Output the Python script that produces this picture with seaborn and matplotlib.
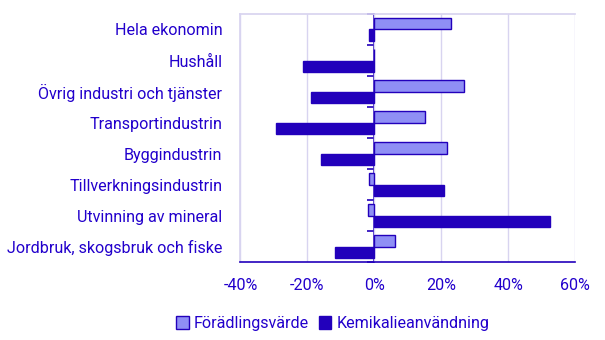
import matplotlib
matplotlib.use("Agg")
import matplotlib.pyplot as plt
import seaborn as sns
import pandas as pd
from matplotlib.ticker import FuncFormatter, FixedLocator

sns.set_theme(style="white")
plt.rcParams["font.family"] = ["Roboto", "DejaVu Sans"]

TEXT = "#2200cc"
DARK = "#2200bb"
LIGHT = "#8f8ff5"
GRID = "#d8d4f0"

categories = [
    "Hela ekonomin",
    "Hushåll",
    "Övrig industri och tjänster",
    "Transportindustrin",
    "Byggindustrin",
    "Tillverkningsindustrin",
    "Utvinning av mineral",
    "Jordbruk, skogsbruk och fiske",
]
foradling = [22.9, 0.0, 26.6, 15.0, 21.8, -1.6, -1.9, 6.0]
kemikalie = [-1.6, -21.3, -19.0, -29.4, -16.0, 20.7, 52.4, -11.8]
series = ["Förädlingsvärde", "Kemikalieanvändning"]

df = pd.concat([
    pd.DataFrame({"kategori": categories, "serie": series[0], "varde": foradling}),
    pd.DataFrame({"kategori": categories, "serie": series[1], "varde": kemikalie}),
])

fig = plt.figure(figsize=(6.05, 3.4), dpi=100)
ax = fig.add_axes([0.3975, 0.2285, 0.5535, 0.7305])

sns.barplot(data=df, y="kategori", x="varde", hue="serie", orient="h",
            palette=[LIGHT, DARK], saturation=1, width=0.75, ax=ax,
            edgecolor=DARK, linewidth=1.0, legend=True)

ax.set_xlim(-40, 60)
ax.set_ylim(len(categories) - 0.5, -0.5)
ax.set_xticks([-40, -20, 0, 20, 40, 60])
ax.xaxis.set_major_formatter(FuncFormatter(lambda v, p: f"{v:.0f}%"))
ax.grid(axis="x", color=GRID, linewidth=1.0)
ax.set_axisbelow(True)
ax.set_xlabel("")
ax.set_ylabel("")

for side in ["top", "left", "right"]:
    ax.spines[side].set_color(GRID)
ax.spines["right"].set_visible(False)
ax.spines["bottom"].set_color(DARK)
ax.spines["bottom"].set_linewidth(1.2)

ax.tick_params(axis="x", colors=DARK, labelcolor=TEXT, labelsize=11.6,
               length=5, width=1.2, direction="out", pad=6)
ax.tick_params(axis="y", length=0, labelcolor=TEXT, labelsize=11.6, pad=13)

# zero line with category separator ticks
zero = ax.secondary_yaxis(0.4)
zero.spines["left"].set_color(DARK)
zero.spines["left"].set_linewidth(1.2)
zero.yaxis.set_major_locator(FixedLocator([i - 0.5 for i in range(len(categories) + 1)]))
zero.tick_params(axis="y", length=5, width=1.2, color=DARK, labelleft=False)
zero.set_yticklabels([])

handles, labels = ax.get_legend_handles_labels()
ax.legend(handles, labels, loc="upper center", bbox_to_anchor=(0.275, -0.19),
          ncol=2, frameon=False, fontsize=11.6, labelcolor=TEXT,
          handlelength=0.8, handleheight=0.8, handletextpad=0.3,
          columnspacing=0.6, borderaxespad=0)

fig.savefig("out.png", dpi=100)
